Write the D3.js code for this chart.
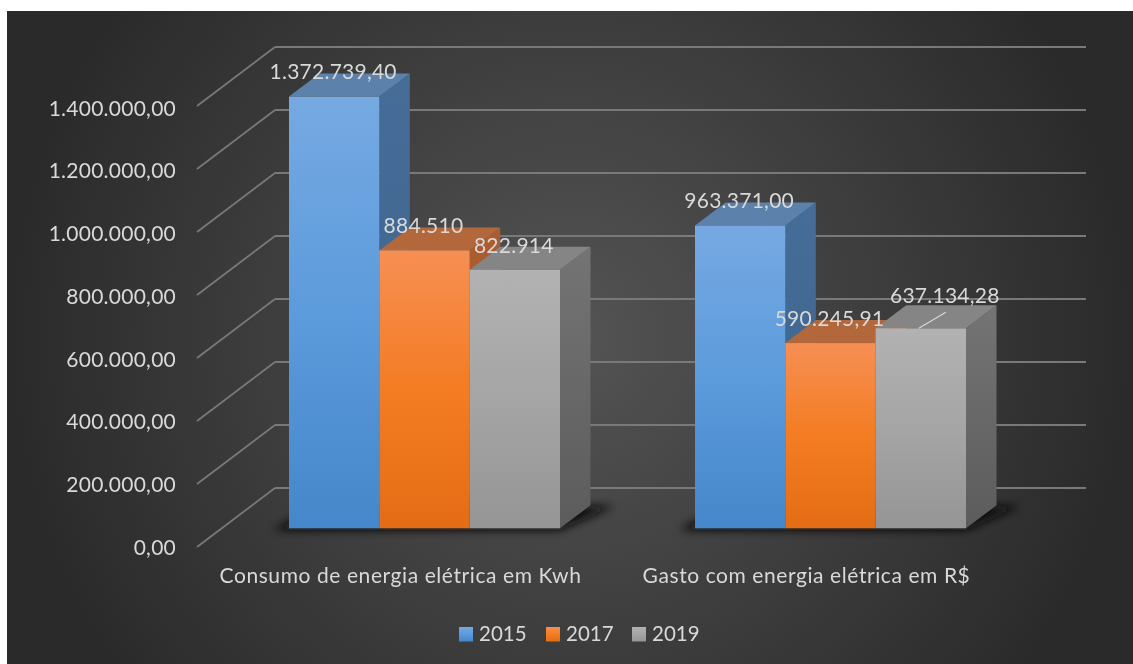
<!DOCTYPE html>
<html><head><meta charset="utf-8">
<script src="https://cdn.jsdelivr.net/npm/d3@7/dist/d3.min.js"></script>
<style>html,body{margin:0;padding:0;background:#fff}svg{display:block;filter:blur(0.45px)}text{font-family:Lato,"Open Sans",sans-serif;fill:#d9d9d9}</style>
</head><body><svg id="c" width="1133" height="664"></svg>
<script>
const categories = ["Consumo de energia elétrica em Kwh", "Gasto com energia elétrica em R$"];
const years = ["2015", "2017", "2019"];
const values2015 = [1372739.40, 963371.00];
const values2017 = [884510, 590245.91];
const values2019 = [822914, 637134.28];
const labels2015 = ["1.372.739,40", "963.371,00"];
const labels2017 = ["884.510", "590.245,91"];
const labels2019 = ["822.914", "637.134,28"];
const tickValues = [0, 200000, 400000, 600000, 800000, 1000000, 1200000, 1400000];

const seriesValues = [values2015, values2017, values2019];
const seriesLabels = [labels2015, labels2017, labels2019];
const palette = [
  {front:["#76a9e2","#5c9bdc","#4587ca"], top:"#5c82ac", side:["#466d97","#3a638c"]},
  {front:["#f68f54","#f47c22","#e46c14"], top:"#b2683a", side:["#ad5e30","#98501f"]},
  {front:["#b2b2b2","#a5a5a5","#959595"], top:"#858585", side:["#747474","#5c5c5c"]}
];
const depth = {dx:30.5, dy:-23};
const wall = {dx:78, dy:-59};

const svg = d3.select("#c");
const defs = svg.append("defs");
const bg = defs.append("radialGradient").attr("id","bg").attr("gradientUnits","userSpaceOnUse")
  .attr("cx",570).attr("cy",337).attr("r",565);
bg.append("stop").attr("offset",0).attr("stop-color","#545454");
bg.append("stop").attr("offset",1).attr("stop-color","#2a2a2a");
palette.forEach((p,i)=>{
  const f = defs.append("linearGradient").attr("id","f"+i).attr("x1",0).attr("x2",0).attr("y1",0).attr("y2",1);
  p.front.forEach((c,j)=>f.append("stop").attr("offset",j/2).attr("stop-color",c));
  const s = defs.append("linearGradient").attr("id","s"+i).attr("x1",0).attr("x2",0).attr("y1",0).attr("y2",1);
  p.side.forEach((c,j)=>s.append("stop").attr("offset",j).attr("stop-color",c));
});
defs.append("filter").attr("id","blur").attr("x","-20%").attr("y","-60%").attr("width","140%").attr("height","220%")
  .append("feGaussianBlur").attr("stdDeviation",5);

svg.append("rect").attr("x",7).attr("y",11).attr("width",1126).attr("height",653).attr("fill","url(#bg)");

const yBack = d3.scaleLinear().domain([0,1400000]).range([488,47]);
const yFront = d3.scaleLinear().domain([0,1400000]).range([529,88]);
const yAxisScale = d3.scaleLinear().domain([0,1400000]).range([547.5,108.5]);
const x0 = d3.scaleBand().domain(categories).range([221.5,1033.5]);
const x1 = d3.scaleBand().domain(years).range([0,271]);
const groupX = c => x0(c) + (x0.bandwidth()-x1.range()[1])/2;

// gridlines: back wall plus side wall
const grid = svg.append("g").attr("fill","none").attr("stroke","#797979");
grid.selectAll("line.b").data(tickValues).join("line").attr("class","b")
  .attr("x1",275).attr("x2",1086).attr("y1",d=>yBack(d)).attr("y2",d=>yBack(d)).attr("stroke-width",2.2);
grid.selectAll("line.s").data(tickValues).join("line").attr("class","s")
  .attr("x1",275-wall.dx).attr("x2",275).attr("y1",d=>yBack(d)-wall.dy).attr("y2",d=>yBack(d)).attr("stroke-width",1.8);

// axis labels
const loc = d3.formatLocale({decimal:",",thousands:".",grouping:[3],currency:["R$",""]});
const yAxis = d3.axisLeft(yAxisScale).tickValues(tickValues).tickSize(0).tickPadding(0).tickFormat(loc.format(",.2f"));
const ga = svg.append("g").attr("transform","translate(176,0)").call(yAxis);
ga.select(".domain").remove();
ga.selectAll("text").attr("font-size",21).style("font-family","Lato").style("letter-spacing","0.25px").attr("fill","#d9d9d9");

// floor shadows
svg.append("g").selectAll("path").data(categories).join("path")
  .attr("d",c=>{
    const l=groupX(c), r=l+x1.range()[1], b=yFront(0);
    return d3.line()([[l-16,b+1],[r,b+1],[r+depth.dx+24,b+depth.dy],[l+30,b+depth.dy]])+"Z";
  }).attr("fill","#0c0c0c").attr("filter","url(#blur)");

// bars
const bars = svg.append("g");
categories.forEach((c,ci)=>{
  years.forEach((yr,si)=>{
    const v = seriesValues[si][ci];
    const l = groupX(c)+x1(yr), r = l+x1.bandwidth(), t = yFront(v), b = yFront(0)-0.7;
    const g = bars.append("g");
    g.append("path").attr("fill","url(#s"+si+")")
      .attr("d",d3.line()([[r,t],[r+depth.dx,t+depth.dy],[r+depth.dx,b+depth.dy],[r,b]])+"Z");
    g.append("path").attr("fill",palette[si].top)
      .attr("d",d3.line()([[l,t],[l+depth.dx,t+depth.dy],[r+depth.dx,t+depth.dy],[r,t]])+"Z");
    g.append("rect").attr("x",l).attr("y",t).attr("width",r-l).attr("height",b-t).attr("fill","url(#f"+si+")");
  });
});

// data labels
const manual = {"1-2":{dx:24,dy:-32.5}};
const lab = svg.append("g").attr("font-size",21).style("letter-spacing","0.25px").attr("text-anchor","middle");
categories.forEach((c,ci)=>{
  years.forEach((yr,si)=>{
    const m = manual[ci+"-"+si] || {dx:-1,dy:-24.5};
    const cx = groupX(c)+x1(yr)+x1.bandwidth()/2, t = yFront(seriesValues[si][ci]);
    lab.append("text").attr("x",cx+m.dx).attr("y",t+m.dy).attr("dy","0.35em").text(seriesLabels[si][ci]);
    if (manual[ci+"-"+si]) {
      svg.append("line").attr("x1",cx-2).attr("y1",t).attr("x2",cx+25).attr("y2",t-16)
        .attr("stroke","#d9d9d9").attr("stroke-width",1.2);
    }
  });
});

// category labels
svg.append("g").attr("font-size",21).style("letter-spacing","0.58px").attr("text-anchor","middle").selectAll("text").data(categories).join("text")
  .attr("x",c=>x0(c)+x0.bandwidth()/2-24).attr("y",576).attr("dy","0.35em").text(c=>c);

// legend
const legendSwatch = [459,546,632];
const lg = svg.append("g").selectAll("g").data(years).join("g").attr("transform",(d,i)=>`translate(${legendSwatch[i]},627)`);
lg.append("rect").attr("width",14).attr("height",14.5).attr("fill",(d,i)=>`url(#f${i})`);
lg.append("text").attr("x",20).attr("y",7).attr("dy","0.35em").attr("font-size",20.5).text(d=>d);
</script></body></html>
